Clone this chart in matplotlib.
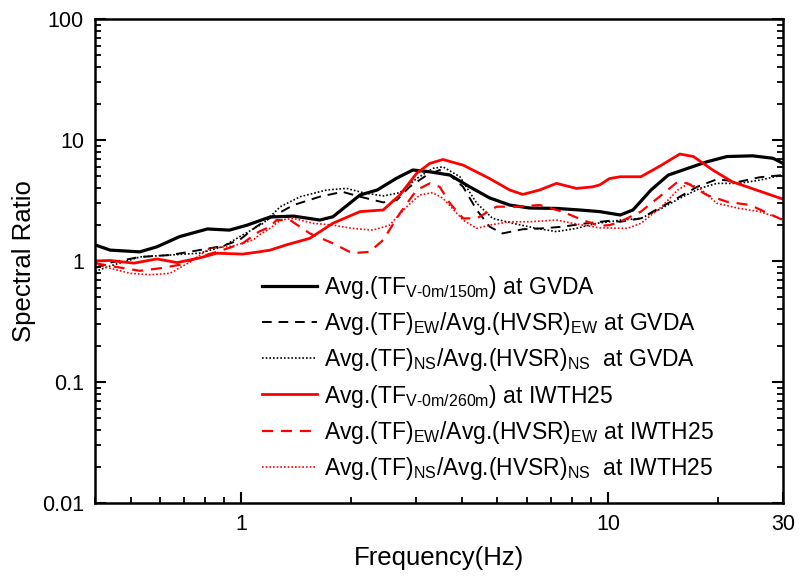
import matplotlib
matplotlib.use("Agg")
import matplotlib.pyplot as plt

# GVDA, TF V-0m/150m (black solid)
f_gvda_tf = [0.4, 0.44, 0.53, 0.59, 0.68, 0.81, 0.93, 1.04, 1.20, 1.39, 1.64, 1.78, 2.11, 2.35, 2.66, 2.94,
             3.27, 3.71, 4.20, 4.76, 5.40, 6.12, 7.24, 8.37, 9.49, 10.8, 11.7, 13.1, 14.6, 16.5, 18.6, 21.1,
             24.8, 28.2, 30]
v_gvda_tf = [1.36, 1.23, 1.19, 1.31, 1.59, 1.84, 1.80, 1.98, 2.31, 2.35, 2.18, 2.32, 3.51, 3.86, 4.85, 5.65,
             5.46, 5.13, 4.10, 3.32, 2.90, 2.74, 2.72, 2.64, 2.56, 2.40, 2.64, 3.86, 5.13, 5.83, 6.60, 7.30,
             7.40, 7.06, 6.40]

# GVDA, EW (black dashed)
f_gvda_ew = [0.4, 0.44, 0.53, 0.64, 0.77, 0.89, 0.99, 1.10, 1.20, 1.39, 1.64, 1.89, 2.11, 2.44, 2.66, 2.88,
             3.21, 3.48, 3.71, 4.03, 4.39, 4.76, 5.16, 5.86, 6.62, 7.51, 8.74, 10.1, 10.8, 12.3, 14.0, 15.7,
             17.5, 19.8, 22.8, 25.9, 30]
v_gvda_ew = [0.875, 0.97, 1.08, 1.12, 1.23, 1.33, 1.49, 1.92, 2.27, 2.90, 3.40, 3.73, 3.40, 3.05, 3.19, 4.10,
             5.13, 5.65, 5.13, 4.10, 2.64, 1.92, 1.69, 1.83, 1.86, 1.92, 2.05, 2.15, 2.11, 2.25, 2.81, 3.40,
             4.10, 4.73, 4.52, 4.92, 5.13]

# GVDA, NS (black dotted)
f_gvda_ns = [0.4, 0.44, 0.53, 0.64, 0.77, 0.89, 1.01, 1.15, 1.28, 1.45, 1.71, 1.94, 2.15, 2.44, 2.71, 3.01,
             3.33, 3.55, 3.95, 4.39, 4.85, 5.50, 6.39, 7.24, 8.21, 9.31, 10.1, 10.8, 12.3, 14.0, 15.7, 17.8,
             19.8, 22.8, 25.9, 30]
v_gvda_ns = [0.82, 0.91, 1.08, 1.12, 1.16, 1.31, 1.64, 2.05, 2.81, 3.40, 3.86, 3.98, 3.67, 3.45, 3.67, 4.80,
             5.83, 6.00, 4.97, 3.00, 2.25, 2.05, 1.86, 1.75, 1.86, 2.05, 2.11, 2.18, 2.25, 2.72, 3.30, 3.98,
             4.38, 4.38, 4.66, 5.13]

# IWTH25, TF V-0m/260m (red solid)
f_iwth_tf = [0.4, 0.44, 0.51, 0.59, 0.67, 0.77, 0.86, 1.01, 1.12, 1.20, 1.33, 1.54, 1.78, 2.11, 2.44, 2.71,
             3.01, 3.27, 3.55, 4.03, 4.76, 5.40, 5.86, 6.51, 7.24, 8.21, 9.08, 9.49, 10.1, 10.8, 12.3, 14.0,
             15.7, 17.1, 19.3, 21.8, 25.4, 29.5, 30]
v_iwth_tf = [1.00, 1.01, 0.96, 1.04, 0.97, 1.06, 1.16, 1.14, 1.19, 1.23, 1.36, 1.54, 2.05, 2.56, 2.64, 3.51,
             5.30, 6.40, 6.90, 6.20, 4.80, 3.86, 3.55, 3.86, 4.38, 3.98, 4.10, 4.25, 4.80, 4.97, 4.97, 6.20,
             7.66, 7.30, 5.65, 4.52, 3.86, 3.30, 3.25]

# IWTH25, EW (red dashed)
f_iwth_ew = [0.4, 0.44, 0.53, 0.60, 0.68, 0.77, 0.89, 1.01, 1.12, 1.20, 1.25, 1.36, 1.54, 1.78, 2.01, 2.24,
             2.44, 2.71, 3.01, 3.27, 3.48, 3.71, 4.03, 4.39, 4.97, 5.64, 6.51, 7.51, 8.53, 9.49, 10.1, 10.8,
             12.3, 14.0, 15.5, 16.5, 18.6, 21.1, 24.4, 30]
v_iwth_ew = [0.96, 0.91, 0.83, 0.87, 0.93, 1.08, 1.23, 1.40, 1.75, 1.92, 2.18, 2.18, 1.69, 1.40, 1.16, 1.19,
             1.49, 2.48, 3.86, 4.38, 4.10, 3.00, 2.25, 2.25, 2.81, 2.81, 2.90, 2.56, 2.18, 1.95, 1.98, 2.11,
             2.56, 3.51, 4.52, 4.38, 3.51, 3.09, 2.90, 2.18]

# IWTH25, NS (red dotted)
f_iwth_ns = [0.4, 0.44, 0.50, 0.565, 0.64, 0.73, 0.82, 0.95, 1.08, 1.12, 1.20, 1.28, 1.39, 1.57, 1.78, 2.01,
             2.29, 2.54, 2.83, 3.07, 3.33, 3.55, 4.03, 4.39, 4.76, 5.40, 6.12, 7.24, 8.21, 9.49, 11.3, 12.3,
             14.0, 15.5, 16.6, 17.8, 19.8, 22.8, 25.9, 30]
v_iwth_ns = [0.94, 0.87, 0.79, 0.77, 0.79, 0.99, 1.27, 1.33, 1.49, 1.64, 1.86, 2.18, 2.25, 2.05, 1.98, 1.86,
             1.80, 1.98, 2.81, 3.51, 3.67, 3.30, 2.18, 1.86, 1.98, 2.11, 2.11, 2.18, 2.02, 1.88, 1.86, 2.05,
             2.81, 3.86, 4.38, 3.98, 3.00, 2.72, 2.56, 2.21]

labels = [
    r"Avg.(TF$_\mathregular{V‐0m/150m}$) at GVDA",
    r"Avg.(TF)$_\mathregular{EW}$/Avg.(HVSR)$_\mathregular{EW}$ at GVDA",
    r"Avg.(TF)$_\mathregular{NS}$/Avg.(HVSR)$_\mathregular{NS}$  at GVDA",
    r"Avg.(TF$_\mathregular{V‐0m/260m}$) at IWTH25",
    r"Avg.(TF)$_\mathregular{EW}$/Avg.(HVSR)$_\mathregular{EW}$ at IWTH25",
    r"Avg.(TF)$_\mathregular{NS}$/Avg.(HVSR)$_\mathregular{NS}$  at IWTH25",
]

plt.rcParams["font.family"] = ["Liberation Sans", "DejaVu Sans"]

fig = plt.figure(figsize=(7.99, 5.77), dpi=100)
ax = fig.add_axes([95 / 799, 74 / 577, 688 / 799, 484 / 577])

ax.plot(f_gvda_tf, v_gvda_tf, color="black", lw=2.3, label=labels[0])
ax.plot(f_gvda_ew, v_gvda_ew, color="black", lw=1.4, dashes=(5, 3.5), label=labels[1])
ax.plot(f_gvda_ns, v_gvda_ns, color="black", lw=1.2, dashes=(1, 1.2), label=labels[2])
ax.plot(f_iwth_tf, v_iwth_tf, color="red", lw=2.0, label=labels[3])
ax.plot(f_iwth_ew, v_iwth_ew, color="red", lw=1.6, dashes=(5, 3.5), label=labels[4])
ax.plot(f_iwth_ns, v_iwth_ns, color="red", lw=1.2, dashes=(1, 1.2), label=labels[5])

ax.set_xscale("log")
ax.set_yscale("log")
ax.set_xlim(0.4, 30)
ax.set_ylim(0.01, 100)

ax.set_xticks([1, 10, 30])
ax.set_xticklabels(["1", "10", "30"])
ax.set_yticks([0.01, 0.1, 1, 10, 100])
ax.set_yticklabels(["0.01", "0.1", "1", "10", "100"])
ax.tick_params(which="major", direction="in", length=8, width=1.5, labelsize=15.5, pad=8,
               right=True, top=False)
ax.tick_params(which="minor", direction="in", length=4, width=1.3, right=True, top=False)
for s in ax.spines.values():
    s.set_linewidth(1.8)

ax.set_xlabel("Frequency(Hz)", fontsize=18.5, labelpad=8)
ax.set_ylabel("Spectral Ratio", fontsize=18.5, labelpad=4)

ax.legend(loc="upper left", bbox_to_anchor=((262 - 95) / 688, (503 - 274) / 484),
          frameon=False, fontsize=16.5, borderpad=0, borderaxespad=0,
          handlelength=2.4, handletextpad=0.3, labelspacing=0.4)

fig.savefig("out.png", dpi=100)
